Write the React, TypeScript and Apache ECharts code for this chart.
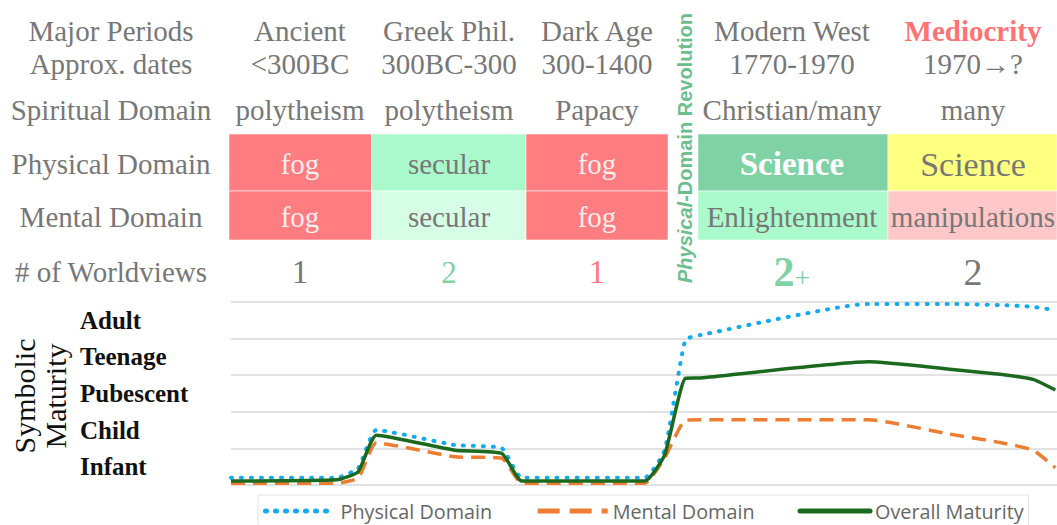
import React, { useEffect, useRef } from "react";
import * as echarts from "echarts";

// ---------- DATA ----------
const rowLabels = ["Major Periods", "Approx. dates", "Spiritual Domain", "Physical Domain", "Mental Domain", "# of Worldviews"];
const periods = ["Ancient", "Greek Phil.", "Dark Age", "Modern West", "Mediocrity"];
const dates = ["<300BC", "300BC-300", "300-1400", "1770-1970", "1970→?"];
const spiritual = ["polytheism", "polytheism", "Papacy", "Christian/many", "many"];
const physicalCells = ["fog", "secular", "fog", "Science", "Science"];
const mentalCells = ["fog", "secular", "fog", "Enlightenment", "manipulations"];
const worldviews = ["1", "2", "1", "2+", "2"];
const revolutionLabel = ["Physical", "-Domain Revolution"];
const maturityLevels = ["Infant", "Child", "Pubescent", "Teenage", "Adult"];
const axisTitle = "Symbolic\nMaturity";
const seriesNames = ["Physical Domain", "Mental Domain", "Overall Maturity"];

// timeline position (0..100 across the plot)
const timeline = [0, 12.8, 15.4, 17.6, 27.1, 32.8, 35.2, 50.1, 52.5, 55.0, 56.8, 77.2, 87.0, 93.1, 97.1, 99.8];
const physicalValues = [0.2, 0.2, 0.46, 1.5, 1.09, 1.0, 0.2, 0.2, 0.95, 3.96, 4.09, 4.94, 4.94, 4.91, 4.86, 4.77];
const mentalValues = [0.05, 0.05, 0.19, 1.15, 0.77, 0.73, 0.05, 0.05, 0.74, 1.77, 1.78, 1.78, 1.39, 1.16, 0.95, 0.47];
const overallValues = [0.11, 0.14, 0.36, 1.36, 0.95, 0.86, 0.11, 0.11, 0.82, 2.91, 2.92, 3.36, 3.16, 3.02, 2.88, 2.59];

// ---------- LAYOUT / STYLE ----------
const SERIF = "'Liberation Serif', 'Times New Roman', serif";
const SANS = "'Open Sans', 'Noto Sans', sans-serif";
const GRAY = "#777777";
const RED = "#ff7c80";
const GREEN = "#7ed2a4";
const labelX = 111;
const colCenters = [300, 449, 597, 792, 973];
const colBounds = [[229, 371.5], [371.5, 526], [526, 668], [698, 888], [888, 1057]];
const rowY = [31, 64, 110, 164, 217, 272];
const physRect = [134, 191];
const mentRect = [191, 240];
const physFill = [RED, "#aaf9cc", RED, GREEN, "#ffff80"];
const mentFill = [RED, "#d6fde6", RED, "#aafacb", "#ffc7c7"];
const lineColors = ["#12aaf0", "#ed7d31", "#1b691f"];

function txt(text: string, x: number, y: number, o: any = {}) {
  return {
    type: "text",
    x,
    y,
    silent: true,
    style: {
      text,
      fill: o.fill || GRAY,
      fontSize: o.fontSize || 29,
      fontFamily: o.fontFamily || SERIF,
      fontWeight: o.fontWeight || "normal",
      align: o.align || "center",
      verticalAlign: "middle",
      textAlign: o.align || "center",
      textVerticalAlign: "middle",
      lineHeight: o.lineHeight,
      rich: o.rich,
    },
    rotation: o.rotation || 0,
  };
}

function buildGraphic() {
  const els: any[] = [];
  colBounds.forEach((b, i) => {
    els.push({ type: "rect", shape: { x: b[0], y: physRect[0], width: b[1] - b[0], height: physRect[1] - physRect[0] }, style: { fill: physFill[i], stroke: "rgba(255,255,255,0.55)", lineWidth: 1 } });
    els.push({ type: "rect", shape: { x: b[0], y: mentRect[0], width: b[1] - b[0], height: mentRect[1] - mentRect[0] }, style: { fill: mentFill[i], stroke: "rgba(255,255,255,0.55)", lineWidth: 1 } });
  });
  rowLabels.forEach((l, r) => els.push(txt(l, labelX, rowY[r])));
  periods.forEach((p, i) => els.push(txt(p, colCenters[i], rowY[0], i === 4 ? { fill: "#ff7373", fontWeight: "bold" } : {})));
  dates.forEach((d, i) => els.push(txt(d, colCenters[i], rowY[1])));
  spiritual.forEach((d, i) => els.push(txt(d, colCenters[i], rowY[2])));
  physicalCells.forEach((d, i) => {
    let o: any = {};
    if (d === "fog") o = { fill: "#f7eeee" };
    if (i === 3) o = { fill: "#ffffff", fontWeight: "bold", fontSize: 33 };
    if (i === 4) o = { fontSize: 34 };
    els.push(txt(d, colCenters[i], rowY[3], o));
  });
  mentalCells.forEach((d, i) => {
    const o: any = d === "fog" ? { fill: "#f7eeee" } : {};
    els.push(txt(d, colCenters[i], rowY[4], o));
  });
  worldviews.forEach((d, i) => {
    if (d.endsWith("+")) {
      els.push(txt(`{a|${d.slice(0, -1)}}{b|+}`, colCenters[i], rowY[5], {
        rich: {
          a: { fontSize: 42, fontWeight: "bold", fill: GREEN, fontFamily: SERIF },
          b: { fontSize: 28, fill: GREEN, fontFamily: SERIF, padding: [10, 0, 0, 0] },
        },
      }));
    } else {
      const o: any = [{ fontSize: 33 }, { fontSize: 31, fill: GREEN }, { fontSize: 33, fill: RED }, {}, { fontSize: 38 }][i];
      els.push(txt(d, colCenters[i], rowY[5], o));
    }
  });
  els.push(txt(`{i|${revolutionLabel[0]}}{r|${revolutionLabel[1]}}`, 685, 148, {
    rotation: Math.PI / 2,
    rich: {
      i: { fontSize: 20, fontWeight: "bold", fontStyle: "italic", fill: "#6cbf8c", fontFamily: "'Liberation Sans', Arial, sans-serif" },
      r: { fontSize: 20, fontWeight: "bold", fill: "#6cbf8c", fontFamily: "'Liberation Sans', Arial, sans-serif" },
    },
  }));
  els.push(txt(axisTitle, 40, 396, { rotation: Math.PI / 2, fill: "#111111", fontSize: 30, lineHeight: 31 }));
  return els;
}

function pairs(vals: number[]) {
  return vals.map((v, i) => [timeline[i], v]);
}

export default function App() {
  const ref = useRef<HTMLDivElement>(null);
  useEffect(() => {
    const chart = echarts.init(ref.current!, null, { renderer: "svg" });
    const legendLines = [
      { width: 5, type: [1, 9], cap: "round", color: lineColors[0] },
      { width: 5, type: [22, 10], color: lineColors[1] },
      { width: 5, cap: "round", color: lineColors[2] },
    ];
    const option: any = {
      animation: false,
      backgroundColor: "#ffffff",
      grid: { left: 231, right: 0, top: 301.7, bottom: 40, containLabel: false },
      xAxis: { type: "value", min: 0, max: 100, show: false },
      yAxis: [
        {
          type: "value",
          min: 0,
          max: 5,
          interval: 1,
          axisLabel: { show: false },
          axisLine: { show: false },
          axisTick: { show: false },
          splitLine: { lineStyle: { color: "#d9d9d9", width: 1.5 } },
        },
        {
          type: "category",
          data: maturityLevels,
          boundaryGap: true,
          position: "left",
          axisLine: { show: false },
          axisTick: { show: false },
          splitLine: { show: false },
          axisLabel: { align: "left", margin: 151, color: "#111111", fontFamily: SERIF, fontWeight: "bold", fontSize: 25, padding: [4, 0, 0, 0] },
        },
      ],
      legend: {
        left: 258,
        top: 495,
        padding: [6, 5, 6, 5],
        borderColor: "#e3e3e3",
        borderWidth: 1,
        itemWidth: 70,
        itemHeight: 14,
        itemGap: 43,
        textStyle: { color: "#666666", fontSize: 19.8, fontFamily: SANS },
        data: seriesNames.map((n, i) => ({ name: n, itemStyle: { opacity: 0 }, lineStyle: legendLines[i] })),
      },
      series: [
        {
          name: seriesNames[0],
          type: "line",
          data: pairs(physicalValues),
          symbol: "none",
          smooth: 0.15,
          lineStyle: { color: lineColors[0], width: 4, type: [1, 9], cap: "round" },
          itemStyle: { color: lineColors[0] },
        },
        {
          name: seriesNames[1],
          type: "line",
          data: pairs(mentalValues),
          symbol: "none",
          smooth: 0.15,
          lineStyle: { color: lineColors[1], width: 3.5, type: [14, 8] },
          itemStyle: { color: lineColors[1] },
        },
        {
          name: seriesNames[2],
          type: "line",
          data: pairs(overallValues),
          symbol: "none",
          smooth: 0.15,
          lineStyle: { color: lineColors[2], width: 3.5 },
          itemStyle: { color: lineColors[2] },
        },
      ],
      graphic: { elements: buildGraphic() },
    };
    chart.setOption(option);
    return () => chart.dispose();
  }, []);
  return <div ref={ref} style={{ position: "absolute", left: 0, top: 0, width: 1057, height: 525 }} />;
}
